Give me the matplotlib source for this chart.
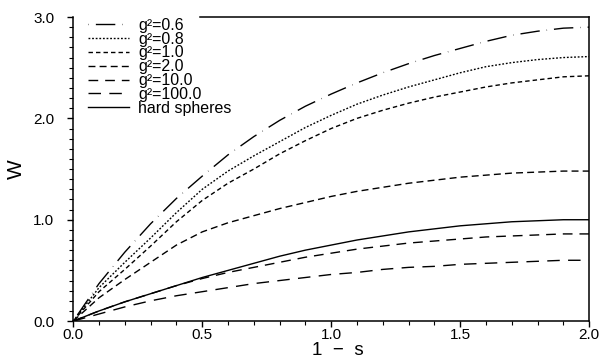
import numpy as np
import matplotlib
matplotlib.use("Agg")
import matplotlib.pyplot as plt
from matplotlib.ticker import MultipleLocator, FormatStrFormatter

plt.rcParams["font.family"] = ["Liberation Sans", "DejaVu Sans"]

# --- data ---------------------------------------------------------------------
x = [0.0, 0.1, 0.2, 0.3, 0.4, 0.5, 0.6, 0.7, 0.8, 0.9, 1.0,
     1.1, 1.2, 1.3, 1.4, 1.5, 1.6, 1.7, 1.8, 1.9, 2.0]
w_g06 = [0.0, 0.37, 0.68, 0.96, 1.21, 1.43, 1.64, 1.82, 1.98, 2.12, 2.24,
         2.35, 2.45, 2.54, 2.62, 2.69, 2.76, 2.82, 2.86, 2.89, 2.90]
w_g08 = [0.0, 0.33, 0.58, 0.82, 1.07, 1.30, 1.48, 1.63, 1.77, 1.91, 2.03,
         2.14, 2.23, 2.31, 2.38, 2.45, 2.51, 2.55, 2.58, 2.60, 2.61]
w_g10 = [0.0, 0.29, 0.51, 0.74, 0.98, 1.19, 1.36, 1.50, 1.65, 1.78, 1.90,
         2.00, 2.08, 2.15, 2.21, 2.26, 2.31, 2.35, 2.38, 2.41, 2.42]
w_g20 = [0.0, 0.23, 0.41, 0.58, 0.75, 0.88, 0.97, 1.04, 1.11, 1.17, 1.23,
         1.28, 1.32, 1.36, 1.39, 1.42, 1.44, 1.46, 1.47, 1.48, 1.48]
w_g100 = [0.0, 0.10, 0.19, 0.27, 0.35, 0.42, 0.48, 0.53, 0.58, 0.63, 0.67,
          0.71, 0.74, 0.77, 0.79, 0.81, 0.83, 0.84, 0.85, 0.86, 0.86]
w_g1000 = [0.0, 0.07, 0.14, 0.20, 0.25, 0.29, 0.33, 0.37, 0.40, 0.43, 0.46,
           0.48, 0.51, 0.53, 0.54, 0.56, 0.57, 0.58, 0.59, 0.60, 0.60]
w_hard = [0.0, 0.10, 0.19, 0.27, 0.35, 0.43, 0.50, 0.57, 0.64, 0.70, 0.75,
          0.80, 0.84, 0.88, 0.91, 0.94, 0.96, 0.98, 0.99, 1.00, 1.00]

labels = ["g²=0.6", "g²=0.8", "g²=1.0", "g²=2.0", "g²=10.0", "g²=100.0", "hard spheres"]

# --- plot ---------------------------------------------------------------------
fig = plt.figure(figsize=(6.0, 3.62), dpi=100)
ax = fig.add_axes([0.122, 0.113, 0.860, 0.840])

styles = [(0, (0.3, 5, 14, 5)),
          (0, (1.3, 1.3)),
          (0, (3.2, 2.2)),
          (0, (5.0, 3.0)),
          (0, (7.0, 5.0)),
          (0, (9, 6)),
          "-"]
series = [w_g06, w_g08, w_g10, w_g20, w_g100, w_g1000, w_hard]
for w, ls, lab in zip(series, styles, labels):
    ax.plot(x, w, color="black", lw=1.0, ls=ls, label=lab)

ax.set_xlim(0, 2.0)
ax.set_ylim(0, 3.0)
ax.xaxis.set_major_locator(MultipleLocator(0.5))
ax.xaxis.set_minor_locator(MultipleLocator(0.1))
ax.yaxis.set_major_locator(MultipleLocator(1.0))
ax.yaxis.set_minor_locator(MultipleLocator(0.1))
ax.xaxis.set_major_formatter(FormatStrFormatter("%.1f"))
ax.yaxis.set_major_formatter(FormatStrFormatter("%.1f"))
ax.tick_params(which="major", direction="out", length=4, width=1.0, labelsize=11)
ax.tick_params(axis="x", which="major", pad=1.0)
ax.tick_params(axis="y", which="major", pad=9.5)
ax.tick_params(which="minor", direction="out", length=3, width=0.8)
for s in ax.spines.values():
    s.set_linewidth(1.1)
ax.spines["top"].set_bounds(0.49, 2.0)

ax.set_xlabel("1  −  s", fontsize=13.5)
ax.xaxis.set_label_coords(0.513, -0.068)
ax.set_ylabel("W", fontsize=15)
ax.yaxis.set_label_coords(-0.091, 0.5)

ax.legend(loc="upper left", bbox_to_anchor=(0.028, 0.998), frameon=False,
          fontsize=11.5, handlelength=2.6, handletextpad=0.55, labelspacing=-0.07,
          borderaxespad=0.0, borderpad=0.0)

fig.savefig("out.png", dpi=100)
